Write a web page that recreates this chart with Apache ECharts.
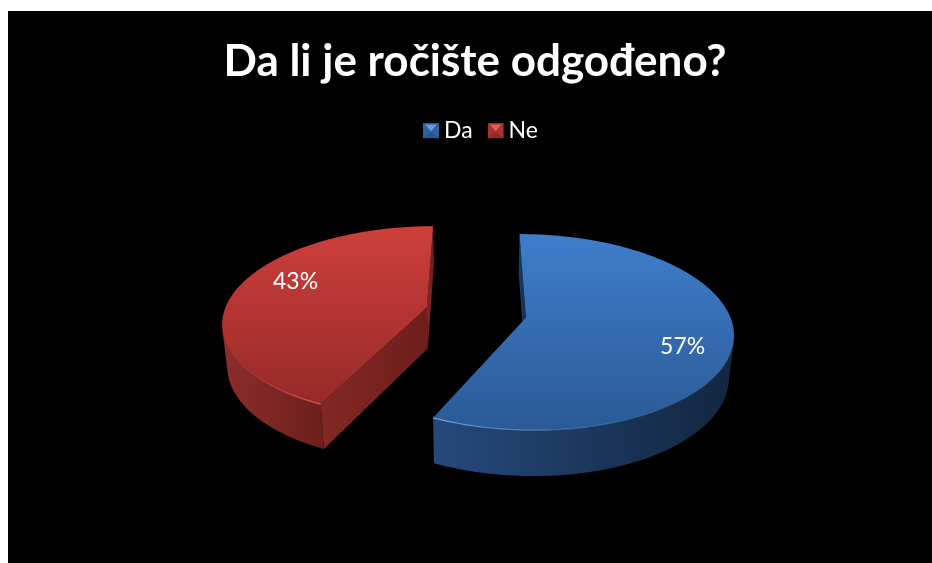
<!DOCTYPE html>
<html>
<head>
<meta charset="utf-8">
<script src="https://cdn.jsdelivr.net/npm/echarts@6/dist/echarts.min.js"></script>
<style>
html,body{margin:0;padding:0;background:#fff;overflow:hidden}
#chart{position:absolute;left:8px;top:11px;width:924px;height:552px}
</style>
</head>
<body>
<div id="chart"></div>
<script>
// Data
var titleText = 'Da li je ročište odgođeno?';
var categories = ['Da', 'Ne'];
var values = [57, 43];
var labels = ['57%', '43%'];

// Projection of the tilted, exploded pie
var CX = 468, CY = 301.5, RX = 203, RY = 94.4, PERSP = 0.146, EXPLODE = 0.25;
var DEPTH = 41.2, SHRINK_X = 0.98, GROW_Y = 0.04;
var LABEL_R = 0.75, LABEL_SHIFT = [[2, 13], [11.5, -11]];

var palettes = [
  {top: ['#3f7dcb', '#2a5a96'], rim: ['#26497c', '#12263f'], wall: ['#1a3a63', '#16304f'], edge: ['#6aa6e8', 'rgba(70,130,200,0)']},
  {top: ['#ce3f3b', '#962a29'], rim: ['#8c2d2a', '#6c1f1c'], wall: ['#822824', '#6e1e1b'], edge: ['rgba(200,60,55,0.2)', '#e2605a']}
];

function project(x, v, bottom) {
  var w = 1 - PERSP * v;
  var sx = RX * x / w, sy = RY * v / w;
  if (bottom) { sx *= SHRINK_X; sy = sy * (1 + GROW_Y) + DEPTH; }
  return [CX + sx, CY + sy];
}
function area(p) {
  var s = 0;
  for (var i = 0; i < p.length; i++) {
    var a = p[i], b = p[(i + 1) % p.length];
    s += a[0] * b[1] - b[0] * a[1];
  }
  return s;
}
function grad(x2, y2, c) {
  return new echarts.graphic.LinearGradient(0, 0, x2, y2, [{offset: 0, color: c[0]}, {offset: 1, color: c[1]}]);
}
function sliceRenderer(index) {
  return function () {
    var total = values.reduce(function (a, b) { return a + b; }, 0);
    var before = values.slice(0, index).reduce(function (a, b) { return a + b; }, 0);
    var a0 = before / total * 2 * Math.PI;
    var a1 = (before + values[index]) / total * 2 * Math.PI;
    var mid = (a0 + a1) / 2;
    var px = EXPLODE * Math.sin(mid), pv = -EXPLODE * Math.cos(mid);
    var pal = palettes[index];
    var rim = function (a, b) { return project(px + Math.sin(a), pv - Math.cos(a), b); };
    var P = project(px, pv, false), Pb = project(px, pv, true);
    var N = 180, step = (a1 - a0) / N, children = [];

    // radial walls
    [[a0, -1], [a1, 1]].forEach(function (w) {
      var q = [P, rim(w[0], false), rim(w[0], true), Pb];
      if (area(q) * w[1] > 0) {
        children.push({type: 'polygon', shape: {points: q}, style: {fill: grad(1, 0, pal.wall)}});
      }
    });
    // visible part of the outer rim
    var topPts = [], botPts = [];
    for (var i = 0; i < N; i++) {
      var s = a0 + i * step, e = s + step;
      var q = [rim(s, false), rim(e, false), rim(e, true), rim(s, true)];
      if (area(q) < 0) {
        if (!topPts.length) { topPts.push(q[0]); botPts.push(q[3]); }
        topPts.push(q[1]); botPts.push(q[2]);
      }
    }
    children.push({type: 'polygon', shape: {points: topPts.concat(botPts.slice().reverse())},
      style: {fill: grad(1, 0, pal.rim)}});
    // top face
    var face = [P];
    for (var j = 0; j <= N; j++) { face.push(rim(a0 + j * step, false)); }
    children.push({type: 'polygon', shape: {points: face}, style: {fill: grad(0, 1, pal.top)}});
    // bevel highlight on the front edge, fading away from the cut corner
    children.push({type: 'polyline', shape: {points: topPts},
      style: {fill: null, stroke: grad(1, 0, pal.edge), lineWidth: 1.2}});
    // percentage label
    var lp = project(px + LABEL_R * Math.sin(mid), pv - LABEL_R * Math.cos(mid), false);
    children.push({type: 'text', style: {text: labels[index], x: lp[0] + LABEL_SHIFT[index][0], y: lp[1] + LABEL_SHIFT[index][1],
      fill: '#fff', fontFamily: 'Lato', fontSize: 23, align: 'center', verticalAlign: 'middle'}});
    return {type: 'group', children: children};
  };
}
function legendIcon(edge, dark, light) {
  var svg = "<svg xmlns='http://www.w3.org/2000/svg' width='16' height='16'>" +
    "<rect width='16' height='16' fill='" + dark + "'/>" +
    "<polygon points='2,2 14,2 8,9' fill='" + light + "'/>" +
    "<polygon points='0,0 8,9 0,16' fill='" + edge + "'/>" +
    "<polygon points='16,0 8,9 16,16' fill='" + edge + "'/></svg>";
  return 'image://data:image/svg+xml;charset=utf-8,' + encodeURIComponent(svg);
}
var legendIcons = [legendIcon('#2f639f', '#2a5688', '#5aa0e8'), legendIcon('#a83230', '#8e2a28', '#e06058')];

var chart = echarts.init(document.getElementById('chart'), null, {renderer: 'canvas'});
chart.setOption({
  backgroundColor: '#000',
  animation: false,
  title: {
    text: titleText, left: 462, top: 24, textAlign: 'center',
    textStyle: {color: '#fff', fontFamily: 'Lato', fontWeight: 'bold', fontSize: 44}
  },
  legend: {
    left: 410, top: 103, itemWidth: 16, itemHeight: 16, itemGap: 15,
    data: categories.map(function (c, i) { return {name: c, icon: legendIcons[i]}; }),
    textStyle: {color: '#fff', fontFamily: 'Lato', fontSize: 23}
  },
  series: categories.map(function (c, i) {
    return {type: 'custom', name: c, coordinateSystem: 'none', silent: true,
      renderItem: sliceRenderer(i), data: [values[i]], itemStyle: {color: palettes[i].top[0]}};
  })
});
</script>
</body>
</html>
